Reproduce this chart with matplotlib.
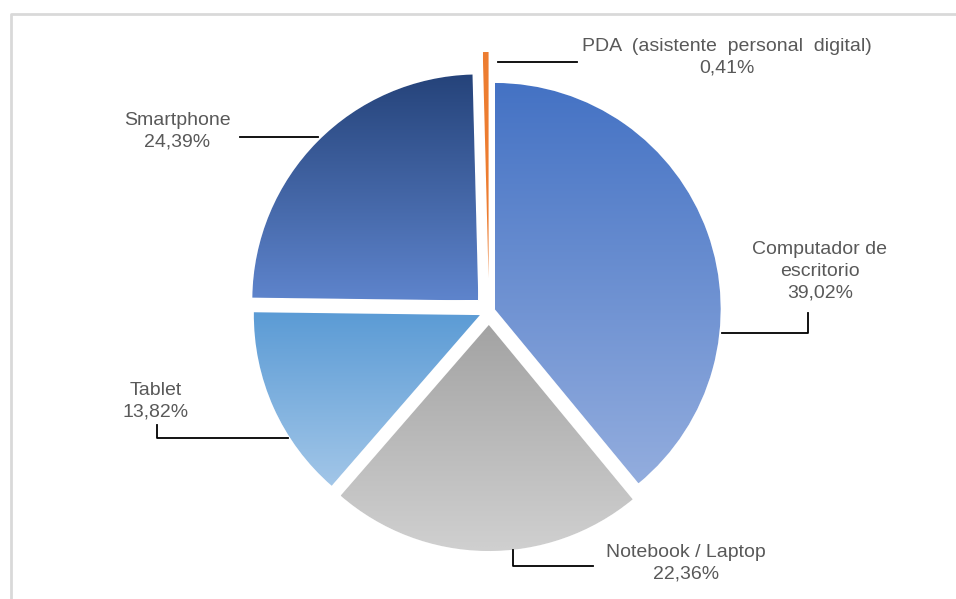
import numpy as np
import matplotlib.pyplot as plt
from matplotlib.colors import LinearSegmentedColormap

plt.rcParams['font.family'] = ['Liberation Sans', 'DejaVu Sans']

# device share of respondents
devices = ["Computador de\nescritorio", "Notebook / Laptop", "Tablet",
           "Smartphone", "PDA  (asistente  personal  digital)"]
shares = [39.02, 22.36, 13.82, 24.39, 0.41]
explode = [6, 14, 10, 15, 33]  # pie offsets are in data units (pixels here)
# (top colour, bottom colour) for each slice's vertical gradient
grads = [("#4472C4", "#93ADDE"),
         ("#A3A3A3", "#D0D0D0"),
         ("#5B9BD5", "#A2C6E8"),
         ("#25437A", "#5E84CC"),
         ("#ED7D31", "#ED7D31")]

W, H = 956, 599
fig = plt.figure(figsize=(9.56, 5.99), dpi=100)
ax = fig.add_axes([0, 0, 1, 1])

wedges, _ = ax.pie(shares, explode=explode, startangle=90, counterclock=False,
                   radius=226, center=(489, H - 311),
                   wedgeprops=dict(linewidth=1, edgecolor="white"))

for w, (top, bot) in zip(wedges, grads):
    w.set_facecolor(top)
    v = w.get_path().vertices
    x0, x1 = v[:, 0].min(), v[:, 0].max()
    y0, y1 = v[:, 1].min(), v[:, 1].max()
    cmap = LinearSegmentedColormap.from_list("g", [bot, top])
    g = np.linspace(0, 1, 256).reshape(-1, 1)
    im = ax.imshow(g, cmap=cmap, extent=[x0, x1, y0, y1], origin="lower",
                   aspect="auto", zorder=w.get_zorder() + 0.1, interpolation="bilinear")
    im.set_clip_path(w)

def label(i):
    return devices[i] + "\n" + f"{shares[i]:.2f}%".replace(".", ",")

txt = dict(fontsize=14, color="#595959", ha="center", va="center",
           linespacing=1.37)
# label text positions and their leader lines
ax.text(820, H - 271, label(0), **txt)
ax.plot([722, 808, 808], [H - 333, H - 333, H - 313], color="black", lw=1.3)

ax.text(686, H - 563, label(1), **txt)
ax.plot([513, 513, 593], [H - 550, H - 566, H - 566], color="black", lw=1.3)

ax.text(156, H - 401, label(2), **txt)
ax.plot([157, 157, 288], [H - 425, H - 438, H - 438], color="black", lw=1.3)

ax.text(177, H - 131, label(3), **txt)
ax.plot([240, 318], [H - 137, H - 137], color="black", lw=1.3)

ax.text(727, H - 57, label(4), **txt)
ax.plot([498, 577], [H - 62, H - 62], color="black", lw=1.3)

# chart frame
ax.plot([11, 11, W + 5], [-5, H - 14, H - 14], color="#D9D9D9", lw=2)

ax.set_xlim(0, W)
ax.set_ylim(0, H)
ax.set_aspect("equal")
ax.axis("off")
fig.savefig("out.png", dpi=100)
